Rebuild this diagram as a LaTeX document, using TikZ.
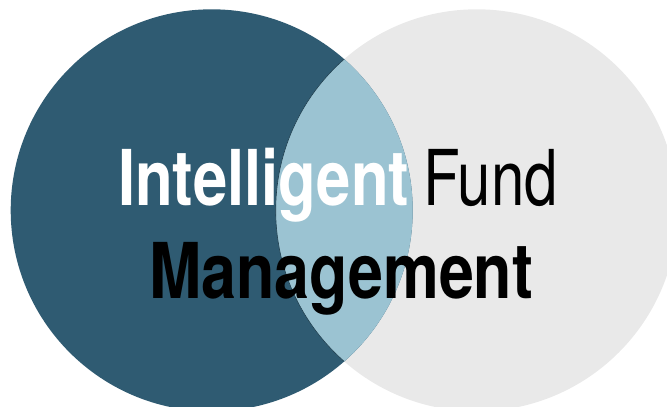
\documentclass[tikz,border=0pt]{standalone}
\usepackage{fontspec}
\newfontfamily\hv{TeX Gyre Heros}
\definecolor{darkteal}{HTML}{2F5B72}
\definecolor{lensblue}{HTML}{9BC3D2}
\definecolor{lightgray}{HTML}{E9E9E9}
\tikzset{
  bigword/.style={inner sep=0pt, outer sep=0pt, anchor=base west, font=\hv\fontsize{77}{80}\selectfont},
}
\begin{document}
\begin{tikzpicture}[x=1pt,y=-1pt]
\useasboundingbox (0,0) rectangle (667,407);
\begin{scope}
\clip (0,0) rectangle (667,407);
\coordinate (cl) at (211.7,210.3);
\coordinate (cr) at (476.7,210.3);
\fill[lightgray] (cr) circle[radius=201];
\fill[darkteal] (cl) circle[radius=201];
\begin{scope}
\clip (cr) circle[radius=201];
\fill[lensblue] (cl) circle[radius=201];
\end{scope}
\begin{scope}
\clip (cl) circle[radius=201];
\draw[darkteal!70!black, line width=0.6pt] (cr) circle[radius=201];
\end{scope}
\end{scope}
\node[bigword, text=white] (intel) at (118,205) {\scalebox{0.80}[1]{\bfseries Intelligent}};
\node[bigword, text=black] (fund) at (423,205) {\scalebox{0.78}[1]{Fund}};
\node[bigword, text=black] (mgmt) at (149,298) {\scalebox{0.815}[1]{\bfseries Management}};
\end{tikzpicture}
\end{document}
